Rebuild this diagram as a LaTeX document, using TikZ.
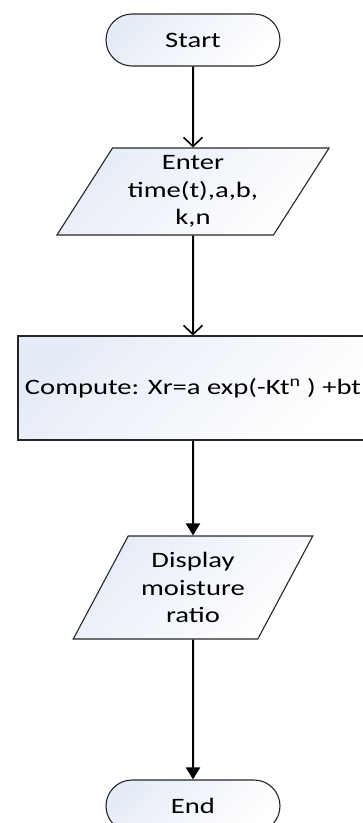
\documentclass[tikz,border=0pt]{standalone}
\usepackage{fontspec}
\setmainfont{Carlito}[FakeStretch=1.3]
\usetikzlibrary{arrows.meta,shapes.geometric}
\definecolor{tint}{RGB}{230,236,247}
\begin{document}
\begin{tikzpicture}[x=1pt,y=1pt,
  shapefill/.style={draw=black!85, line width=1.1pt, top color=tint, bottom color=white, shading angle=45},
  term/.style={shapefill, rectangle, rounded corners=26pt, minimum width=174pt, minimum height=52pt, inner sep=0pt},
  io/.style={shapefill, trapezium, trapezium left angle=58, trapezium right angle=122, trapezium stretches=true, align=center, inner sep=0pt},
  proc/.style={shapefill, rectangle, minimum width=350pt, minimum height=104pt, inner sep=0pt},
  txt/.style={font=\fontsize{22}{27.5}\selectfont},
  openarr/.style={line width=2pt, -{Straight Barb[length=9pt,width=19pt,line width=1.6pt]}},
  fillarr/.style={line width=2pt, -{Triangle[length=12pt,width=14pt]}}
]
\useasboundingbox (0,0) rectangle (362,-823);
\node[term, txt] (start) at (193,-40) {Start};
\node[io, txt, minimum width=273pt, minimum height=87pt] (in) at (193,-191.5) {Enter\\time(t),a,b,\\k,n};
\node[proc, txt] (comp) at (193,-388) {Compute: Xr=a exp(-Kt\textsuperscript{n} ) +bt};
\node[io, txt, minimum width=240pt, minimum height=103pt] (out) at (193,-587.5) {Display\\moisture\\ratio};
\node[term, txt] (end) at (193,-806) {End};
\draw[openarr] (start) -- (in);
\draw[openarr] (in) -- (comp);
\draw[fillarr] (comp) -- (out);
\draw[fillarr] (out) -- (end);
\end{tikzpicture}
\end{document}
